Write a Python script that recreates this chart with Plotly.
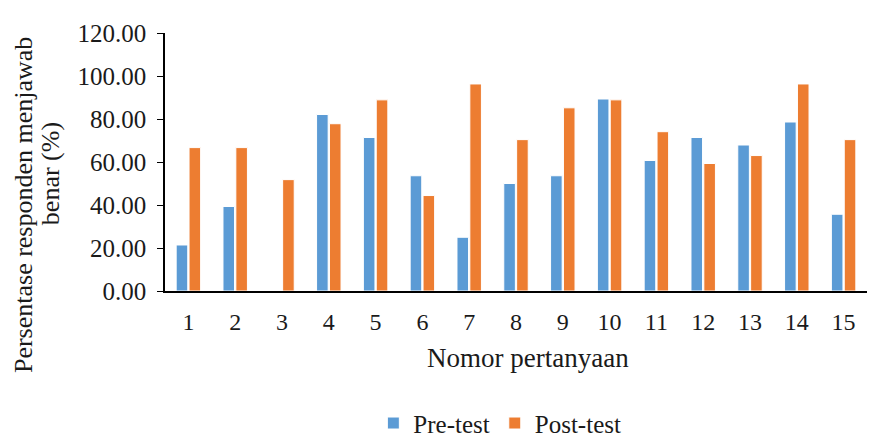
import plotly.graph_objects as go

categories = [str(i) for i in range(1, 16)]
pre_test = [21.4, 39.3, 0.0, 82.1, 71.4, 53.6, 25.0, 50.0, 53.6, 89.3, 60.7, 71.4, 67.9, 78.6, 35.7]
post_test = [66.7, 66.7, 51.8, 77.8, 88.9, 44.4, 96.3, 70.4, 85.2, 88.9, 74.1, 59.3, 63.0, 96.3, 70.4]
y_ticks = [0, 20, 40, 60, 80, 100, 120]

FONT = "Liberation Serif"

fig = go.Figure()
fig.add_trace(go.Bar(x=categories, y=pre_test, name="Pre-test",
                     marker=dict(color="#5B9BD5", line=dict(color="white", width=1))))
fig.add_trace(go.Bar(x=categories, y=post_test, name="Post-test",
                     marker=dict(color="#ED7D31", line=dict(color="white", width=1))))

# page has an 8px body margin, so the figure is sized 8px smaller
fig.update_layout(
    width=873, height=429,
    margin=dict(l=157, r=14, t=16, b=146),
    paper_bgcolor="white", plot_bgcolor="white",
    barmode="group", bargap=0.45, bargroupgap=0.1,
    font=dict(family=FONT, size=24, color="#1a1a1a"),
    showlegend=True,
    legend=dict(orientation="h", x=0.477, xanchor="center", yref="container", y=0.032,
                yanchor="middle", font=dict(size=25), itemwidth=30, traceorder="normal"),
    xaxis=dict(showline=True, linecolor="black", linewidth=1.5, ticks="", showgrid=False,
               tickfont=dict(size=24), ticklabelstandoff=8),
    yaxis=dict(range=[0, 120], tickvals=y_ticks, tickformat=".2f", showline=True,
               linecolor="black", linewidth=1.5, ticks="outside", ticklen=6, tickcolor="black",
               showgrid=False, zeroline=False, tickfont=dict(size=25), ticklabelstandoff=6),
    annotations=[
        dict(text="Nomor pertanyaan", xref="paper", yref="paper", x=0.517, y=-0.258,
             xanchor="center", yanchor="middle", showarrow=False, font=dict(size=27)),
        dict(text="Persentase responden menjawab", xref="paper", yref="paper",
             x=-0.2023, y=0.333, xanchor="center", yanchor="middle", textangle=-90,
             showarrow=False, font=dict(size=26)),
        dict(text="benar (%)", xref="paper", yref="paper",
             x=-0.1638, y=0.453, xanchor="center", yanchor="middle", textangle=-90,
             showarrow=False, font=dict(size=26)),
    ],
)

fig.write_html("out.html")
